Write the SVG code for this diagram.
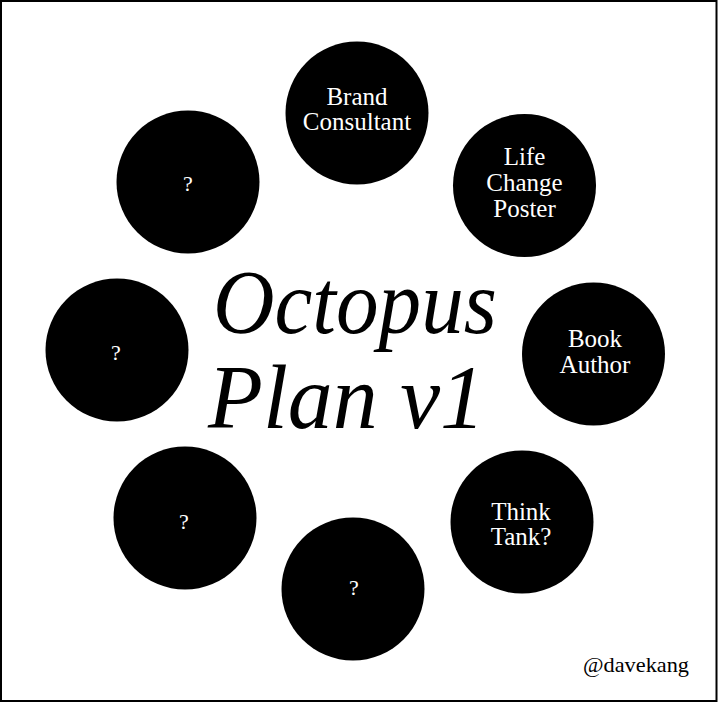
<svg xmlns="http://www.w3.org/2000/svg" width="718" height="703" viewBox="0 0 718 703">
<style>
.node circle{fill:#000}
.lbl{fill:#fff;font-family:"Liberation Serif","DejaVu Serif",serif;font-size:25px;text-anchor:middle}
.q{fill:#fff;font-family:"Liberation Serif","DejaVu Serif",serif;font-size:22px;text-anchor:middle}
.title{fill:#000;font-family:"Liberation Serif","DejaVu Serif",serif;font-style:italic;font-size:90px}
.credit{fill:#000;font-family:"Liberation Serif","DejaVu Serif",serif;font-size:22px}
</style>
<rect x="0" y="0" width="718" height="703" fill="#fff"/>
<rect x="1" y="1" width="715.5" height="700" fill="none" stroke="#000" stroke-width="2"/>
<g id="connectors"></g>
<g id="node-brand" class="node"><circle cx="357" cy="113" r="71.5"/><text class="lbl" x="357" y="105">Brand</text><text class="lbl" x="357" y="129.5">Consultant</text></g>
<g id="node-life" class="node"><circle cx="524.5" cy="185.5" r="71.5"/><text class="lbl" x="524.5" y="165">Life</text><text class="lbl" x="524.5" y="191">Change</text><text class="lbl" x="524.5" y="216.5">Poster</text></g>
<g id="node-book" class="node"><circle cx="593.5" cy="354" r="71.5"/><text class="lbl" x="595" y="347">Book</text><text class="lbl" x="595" y="373">Author</text></g>
<g id="node-think" class="node"><circle cx="522" cy="522" r="71.5"/><text class="lbl" x="521" y="520">Think</text><text class="lbl" x="521" y="545">Tank?</text></g>
<g id="node-q-bottom" class="node"><circle cx="353" cy="589" r="71.5"/><text class="q" x="354" y="595">?</text></g>
<g id="node-q-bottomleft" class="node"><circle cx="185" cy="518" r="71.5"/><text class="q" x="184" y="529">?</text></g>
<g id="node-q-left" class="node"><circle cx="117" cy="350" r="71.5"/><text class="q" x="116" y="360">?</text></g>
<g id="node-q-topleft" class="node"><circle cx="188" cy="182" r="71.5"/><text class="q" x="188" y="191">?</text></g>
<text class="title" x="213" y="333" textLength="284" lengthAdjust="spacingAndGlyphs">Octopus</text>
<text class="title" x="208" y="428" textLength="277" lengthAdjust="spacingAndGlyphs">Plan v1</text>
<text class="credit" x="583" y="672" textLength="106" lengthAdjust="spacingAndGlyphs">@davekang</text>
</svg>
